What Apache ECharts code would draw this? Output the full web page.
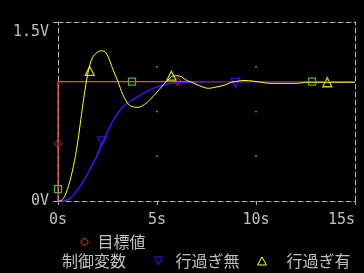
<!DOCTYPE html>
<html><head><meta charset="utf-8">
<script src="https://cdn.jsdelivr.net/npm/echarts@6/dist/echarts.min.js"></script>
<style>html,body{margin:0;padding:0;background:#000;}#c{width:364px;height:273px;}</style>
</head><body><div id="c"></div>
<script>
// ---- data ----
const xTickLabels = ['0s', '5s', '10s', '15s'];
const yTickLabels = ['0V', '1.5V'];

const targetT = [0, 0, 15];
const targetV = [0, 1, 1];
const targetMarkT = [0, 6.05];
const targetMarkV = [0.48, 1.0];

const ctrlMarkT = [0, 3.74, 12.83];
const ctrlMarkV = [0.1, 1.0, 1.0];

const noOverT = [0, 0.2, 0.6, 0.93, 1.26, 1.6, 1.94, 2.22, 2.5, 2.8, 3.28, 3.79, 4.29, 4.8, 5.3, 5.8, 6.5, 7.5, 9, 11, 13, 15];
const noOverV = [0, 0, 0.02, 0.08, 0.16, 0.26, 0.37, 0.48, 0.58, 0.68, 0.79, 0.85, 0.90, 0.944, 0.97, 0.986, 0.995, 1.0, 1.0, 1.0, 1.0, 1.0];
const noOverMarkT = [2.22, 8.97];
const noOverMarkV = [0.5, 0.99];

const overT = [0, 0.1, 0.34, 0.59, 0.84, 1.01, 1.15, 1.3, 1.52, 1.77, 2.19, 2.44, 2.78, 3.03, 3.28, 3.62, 4.04, 4.46, 4.88, 5.3, 5.73, 6.0, 6.25, 6.5, 6.75, 7.17, 7.6, 7.93, 8.43, 8.77, 9.44, 10.2, 10.7, 12.1, 12.5, 15];
const overV = [0, 0, 0.04, 0.16, 0.34, 0.51, 0.68, 0.86, 1.08, 1.21, 1.26, 1.24, 1.10, 1.0, 0.89, 0.80, 0.785, 0.82, 0.89, 0.97, 1.04, 1.05, 1.04, 1.01, 0.995, 0.964, 0.944, 0.953, 0.972, 0.995, 1.01, 0.997, 0.986, 0.986, 0.995, 0.995];
const overMarkT = [1.6, 5.73, 13.6];
const overMarkV = [1.09, 1.05, 0.995];

const gridDotT = [5, 5, 5, 10, 10, 10];
const gridDotV = [0.375, 0.75, 1.125, 0.375, 0.75, 1.125];

// ---- build ----
const zip = (a, b) => a.map((v, i) => [v, b[i]]);
const TXT = '#c0c0c0', AX = '#b0b0b0';
const RED = '#ff4848', GREEN = '#60e060', BLUE = '#4a10ff', YEL = '#ffff40';
const MONO = 'DejaVu Sans Mono';
const CJK = '"Noto Sans CJK JP"';
const downTri = 'path://M0,0L10,0L5,10Z';
const dash = [5, 3];

const chart = echarts.init(document.getElementById('c'), null, {renderer: 'canvas'});
chart.setOption({
  backgroundColor: '#000',
  animation: false,
  grid: {left: 58, right: 9, top: 22, bottom: 72},
  xAxis: [{
    type: 'value', min: 0, max: 15, interval: 5, position: 'bottom',
    axisLine: {lineStyle: {color: AX, type: dash, width: 1}},
    axisTick: {show: true, length: 4, lineStyle: {color: AX}},
    splitLine: {show: false},
    axisLabel: {
      color: TXT, fontFamily: MONO, fontSize: 15, margin: 12,
      formatter: v => { const s = xTickLabels[Math.round(v / 5)]; return v === 15 ? '{r|' + s + '}' : s; },
      rich: {r: {color: TXT, fontFamily: MONO, fontSize: 15, padding: [0, 27, 0, 0]}}
    }
  }, {
    type: 'value', min: 0, max: 15, position: 'top',
    axisLine: {show: true, onZero: false, lineStyle: {color: AX, type: dash, width: 1}},
    axisTick: {show: false}, axisLabel: {show: false}, splitLine: {show: false}
  }],
  yAxis: [{
    type: 'value', min: 0, max: 1.5, interval: 1.5, position: 'left',
    axisLine: {show: true, onZero: false, lineStyle: {color: AX, type: dash, width: 1}},
    axisTick: {show: true, length: 5, lineStyle: {color: AX}},
    splitLine: {show: false},
    axisLabel: {
      color: TXT, fontFamily: MONO, fontSize: 15, margin: 9,
      formatter: v => v === 1.5 ? '{t|' + yTickLabels[1] + '}' : yTickLabels[0],
      rich: {t: {color: TXT, fontFamily: MONO, fontSize: 15, padding: [20, 0, 0, 0]}}
    }
  }, {
    type: 'value', min: 0, max: 1.5, position: 'right',
    axisLine: {show: true, onZero: false, lineStyle: {color: AX, type: dash, width: 1}},
    axisTick: {show: false}, axisLabel: {show: false}, splitLine: {show: false}
  }],
  legend: [
    {left: 80, top: 234, padding: 0, itemWidth: 8, itemHeight: 8,
     textStyle: {color: TXT, fontFamily: CJK, fontSize: 16, lineHeight: 16, padding: [0, 0, 0, 4]},
     data: [{name: '目標値', icon: 'diamond', itemStyle: {color: '#000', borderColor: RED, borderWidth: 1}}]},
    {left: 57, top: 253, padding: 0, itemWidth: 0, itemHeight: 8,
     textStyle: {color: TXT, fontFamily: CJK, fontSize: 16, lineHeight: 16},
     data: [{name: '制御変数', icon: 'none'}]},
    {left: 154, top: 253, padding: 0, itemWidth: 8, itemHeight: 8,
     textStyle: {color: TXT, fontFamily: CJK, fontSize: 16, lineHeight: 16, padding: [0, 0, 0, 8]},
     data: [{name: '行過ぎ無', icon: downTri, itemStyle: {color: '#000', borderColor: BLUE, borderWidth: 1}}]},
    {left: 257, top: 253, padding: 0, itemWidth: 9, itemHeight: 8,
     textStyle: {color: TXT, fontFamily: CJK, fontSize: 16, lineHeight: 16, padding: [0, 0, 0, 15]},
     data: [{name: '行過ぎ有', icon: 'triangle', itemStyle: {color: '#000', borderColor: YEL, borderWidth: 1}}]}
  ],
  series: [
    {type: 'scatter', name: 'grid', silent: true, data: zip(gridDotT, gridDotV), symbol: 'rect', symbolSize: 1.5, itemStyle: {color: TXT}},
    {type: 'line', name: '目標値', data: zip(targetT, targetV), symbol: 'none', lineStyle: {color: RED, width: 1.2}, itemStyle: {color: RED}},
    {type: 'line', name: '行過ぎ無', data: zip(noOverT, noOverV), symbol: 'none', smooth: 0.3, lineStyle: {color: BLUE, width: 1.4}, itemStyle: {color: BLUE}},
    {type: 'line', name: '行過ぎ有', data: zip(overT, overV), symbol: 'none', smooth: 0.3, lineStyle: {color: YEL, width: 1}, itemStyle: {color: YEL}},
    {type: 'scatter', name: '目標値', data: zip(targetMarkT, targetMarkV), symbol: 'diamond', symbolSize: 8, itemStyle: {color: '#000', borderColor: RED, borderWidth: 1}},
    {type: 'scatter', name: '制御変数', data: zip(ctrlMarkT, ctrlMarkV), symbol: 'rect', symbolSize: 7, itemStyle: {color: 'rgba(0,0,0,0)', borderColor: GREEN, borderWidth: 1.3}},
    {type: 'scatter', name: '行過ぎ無', data: zip(noOverMarkT, noOverMarkV), symbol: downTri, symbolSize: [9, 9], itemStyle: {color: 'rgba(0,0,0,0)', borderColor: BLUE, borderWidth: 1.3}},
    {type: 'scatter', name: '行過ぎ有', data: zip(overMarkT, overMarkV), symbol: 'triangle', symbolSize: [9, 9], itemStyle: {color: 'rgba(0,0,0,0)', borderColor: YEL, borderWidth: 1.3}}
  ]
});
</script></body></html>
